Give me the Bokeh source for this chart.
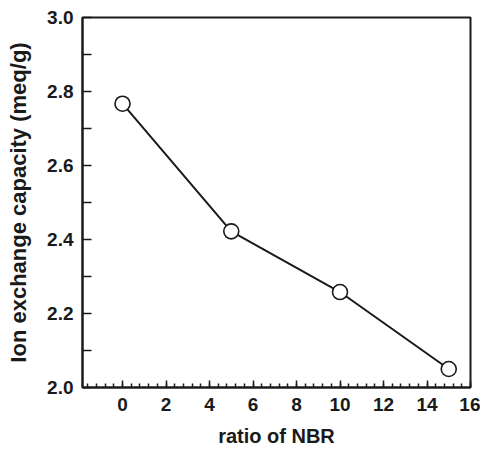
from bokeh.plotting import figure
from bokeh.models import FixedTicker, Range1d, PrintfTickFormatter
from bokeh.embed import file_html
from bokeh.resources import INLINE

# data
nbr_ratio = [0, 5, 10, 15]
ion_capacity = [2.767, 2.422, 2.258, 2.050]

x_major = [0, 2, 4, 6, 8, 10, 12, 14, 16]
x_minor = [round(-1.6 + 0.4 * i, 1) for i in range(45)]
y_major = [2.0, 2.2, 2.4, 2.6, 2.8, 3.0]
y_minor = [2.1, 2.3, 2.5, 2.7, 2.9]

FONT = "Liberation Sans"
INK = "#1a1a1a"

p = figure(width=480, height=452, output_backend="svg", toolbar_location=None,
           x_range=Range1d(-1.84, 16.0), y_range=Range1d(2.0, 3.0),
           min_border_left=82, min_border_right=10, min_border_top=17, min_border_bottom=65)

p.grid.visible = False
p.outline_line_color = INK
p.outline_line_width = 2
p.background_fill_color = "white"
p.border_fill_color = "white"

p.line(nbr_ratio, ion_capacity, line_color=INK, line_width=2)
p.scatter(nbr_ratio, ion_capacity, size=15, marker="circle",
          fill_color="white", line_color=INK, line_width=1.6)

xa = p.xaxis[0]
xa.ticker = FixedTicker(ticks=x_major, minor_ticks=x_minor)
xa.axis_label = "ratio of NBR"
xa.major_tick_in = 7
xa.major_tick_out = 0
xa.minor_tick_in = 4
xa.minor_tick_out = 0
xa.major_label_standoff = 10
xa.axis_label_standoff = 11

ya = p.yaxis[0]
ya.ticker = FixedTicker(ticks=y_major, minor_ticks=y_minor)
ya.formatter = PrintfTickFormatter(format="%.1f")
ya.axis_label = "Ion exchange capacity (meq/g)"
ya.major_tick_in = 9
ya.major_tick_out = 0
ya.minor_tick_in = 9
ya.minor_tick_out = 0
ya.major_label_standoff = 9
ya.axis_label_standoff = 13

for ax in (xa, ya):
    ax.axis_line_color = INK
    ax.axis_line_width = 2
    ax.major_tick_line_color = INK
    ax.minor_tick_line_color = INK
    ax.major_tick_line_width = 1.5
    ax.minor_tick_line_width = 1.5
    ax.major_label_text_font = FONT
    ax.major_label_text_font_style = "bold"
    ax.major_label_text_font_size = "19px"
    ax.major_label_text_color = INK
    ax.axis_label_text_font = FONT
    ax.axis_label_text_font_style = "bold"
    ax.axis_label_text_color = INK

xa.axis_label_text_font_size = "20px"
ya.axis_label_text_font_size = "22px"

open("out.html", "w").write(file_html(p, INLINE))
